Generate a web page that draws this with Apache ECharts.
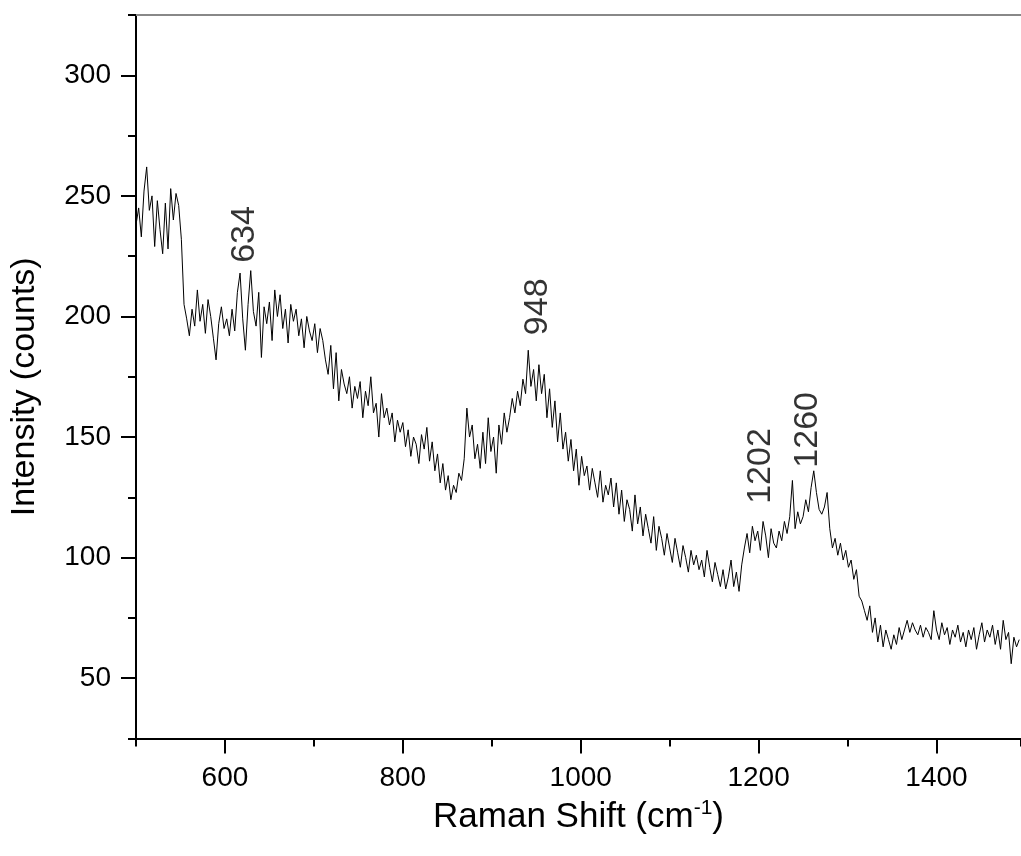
<!DOCTYPE html>
<html>
<head>
<meta charset="utf-8">
<script src="https://cdn.jsdelivr.net/npm/echarts@6/dist/echarts.min.js"></script>
<style>
  html, body { margin: 0; padding: 0; background: #fff; }
  #chart { width: 1021px; height: 856px; }
</style>
</head>
<body>
<div id="chart"></div>
<script>
  // Raman shift sampling (cm-1): first point and spacing
  const shiftStart = 500
  const shiftStep = 3
  // intensity (counts), one value per sample
  const intensity = [
    238, 245, 233, 252, 262, 244, 250, 229, 248, 236,
    226, 247, 228, 253, 240, 251, 246, 232, 205, 199,
    192, 203, 196, 211, 198, 205, 193, 207, 200, 191,
    182, 197, 204, 195, 199, 192, 203, 194, 210, 218,
    199, 186, 205, 219, 202, 196, 210, 183, 204, 197,
    206, 190, 211, 200, 209, 195, 203, 189, 205, 198,
    203, 192, 199, 187, 200, 194, 190, 197, 185, 195,
    190, 182, 176, 188, 170, 185, 165, 178, 172, 168,
    175, 162, 171, 166, 173, 158, 169, 163, 175, 160,
    164, 150, 168, 158, 162, 155, 160, 148, 157, 152,
    156, 146, 153, 142, 150, 147, 139, 151, 145, 154,
    140, 148, 136, 143, 131, 139, 128, 134, 124, 130,
    127, 135, 132, 141, 162, 150, 155, 141, 147, 137,
    152, 139, 158, 144, 150, 135, 155, 147, 160, 152,
    158, 166, 160, 169, 163, 174, 168, 186, 171, 178,
    165, 180, 168, 176, 158, 170, 154, 165, 148, 160,
    145, 152, 140, 149, 136, 145, 130, 142, 134, 138,
    128, 137, 131, 125, 136, 123, 130, 126, 133, 121,
    131, 118, 128, 115, 124, 120, 111, 126, 114, 121,
    109, 118, 112, 106, 117, 103, 113, 108, 101, 110,
    104, 98, 108, 102, 96, 105, 100, 94, 103, 97,
    101, 95, 99, 92, 103, 96, 90, 98, 93, 88,
    95, 87, 92, 99, 88, 94, 86, 97, 104, 110,
    102, 113, 107, 111, 103, 115, 109, 100, 112, 106,
    104, 111, 107, 115, 110, 117, 132, 112, 119, 114,
    117, 124, 119, 129, 136, 127, 120, 118, 121, 127,
    112, 104, 108, 101, 106, 99, 103, 96, 99, 91,
    95, 84, 82, 78, 74, 80, 69, 75, 65, 72,
    63, 70, 66, 62, 68, 64, 71, 66, 70, 74,
    69, 73, 70, 68, 72, 67, 71, 69, 66, 78,
    70, 66, 73, 68, 71, 64, 70, 67, 72, 65,
    69, 63, 70, 66, 71, 62, 68, 73, 65, 70,
    67, 72, 64, 70, 62, 74, 66, 69, 56, 67,
    63, 66
  ]
  const xMajorTicks = [600, 800, 1000, 1200, 1400]
  const yMajorTicks = [50, 100, 150, 200, 250, 300]
  // peak annotations and where their text sits (shift, intensity)
  const peakNames = ['634', '948', '1202', '1260']
  const peakLabelAt = [[622, 234], [951, 204], [1202, 138], [1255, 153]]

  const font = 'Liberation Sans, Arial, sans-serif'
  const black = '#000'

  const myChart = echarts.init(document.getElementById('chart'))

  const lineData = intensity.map((v, i) => [shiftStart + i * shiftStep, v])
  const peakData = peakLabelAt.map((p, i) => [p[0], p[1], peakNames[i]])

  const xBase = { type: 'value', min: 500, max: 1495, splitLine: { show: false } }
  const yBase = { type: 'value', min: 25, max: 325, splitLine: { show: false } }

  const option = {
    animation: false,
    backgroundColor: '#fff',
    grid: { left: 136, right: 0, top: 15, bottom: 117.5, containLabel: false, outerBoundsMode: 'none' },
    xAxis: [
      { // minor ticks every 100 + axis line
        ...xBase, position: 'bottom', interval: 100,
        axisLine: { lineStyle: { color: black, width: 2 } },
        axisTick: { length: 8, lineStyle: { color: black, width: 2 } },
        axisLabel: { show: false }
      },
      { // major ticks and labels
        ...xBase, position: 'bottom',
        axisLine: { show: false },
        axisTick: { customValues: xMajorTicks, length: 15, lineStyle: { color: black, width: 2 } },
        axisLabel: {
          customValues: xMajorTicks, color: black, fontSize: 28, fontFamily: font, margin: 26,
          formatter: v => String(v)
        },
        name: '{a|Raman Shift (cm}{s|-1}{a|)}',
        nameLocation: 'middle',
        nameGap: 52,
        nameTextStyle: {
          rich: {
            a: { fontSize: 35, fontFamily: font, color: black },
            s: { fontSize: 21, fontFamily: font, color: black, padding: [0, 0, 18, 0] }
          }
        }
      },
      { // grey frame line on top
        ...xBase, position: 'top',
        axisLine: { lineStyle: { color: '#888', width: 2 } },
        axisTick: { show: false },
        axisLabel: { show: false }
      }
    ],
    yAxis: [
      {
        ...yBase, position: 'left', interval: 25,
        axisLine: { lineStyle: { color: black, width: 2 } },
        axisTick: { length: 8, lineStyle: { color: black, width: 2 } },
        axisLabel: { show: false }
      },
      {
        ...yBase, position: 'left',
        axisLine: { show: false },
        axisTick: { customValues: yMajorTicks, length: 15, lineStyle: { color: black, width: 2 } },
        axisLabel: {
          customValues: yMajorTicks, color: black, fontSize: 28, fontFamily: font, margin: 25,
          formatter: v => String(v)
        },
        name: 'Intensity (counts)',
        nameLocation: 'middle',
        nameGap: 94,
        nameTextStyle: { fontSize: 34, fontFamily: font, color: black, padding: [0, 20, 0, 0] }
      }
    ],
    series: [
      {
        type: 'line',
        xAxisIndex: 0,
        yAxisIndex: 0,
        data: lineData,
        showSymbol: false,
        lineStyle: { color: black, width: 1 },
        silent: true
      },
      {
        type: 'scatter',
        xAxisIndex: 0,
        yAxisIndex: 0,
        data: peakData,
        symbolSize: 1,
        itemStyle: { color: 'transparent' },
        silent: true,
        label: {
          show: true,
          position: 'inside',
          rotate: 90,
          formatter: p => p.value[2],
          fontSize: 34,
          fontFamily: font,
          color: black,
          textBorderWidth: 0
        }
      }
    ]
  }
  option && myChart.setOption(option)
  window.addEventListener('resize', () => {
    myChart.resize()
  })
</script>
</body>
</html>
